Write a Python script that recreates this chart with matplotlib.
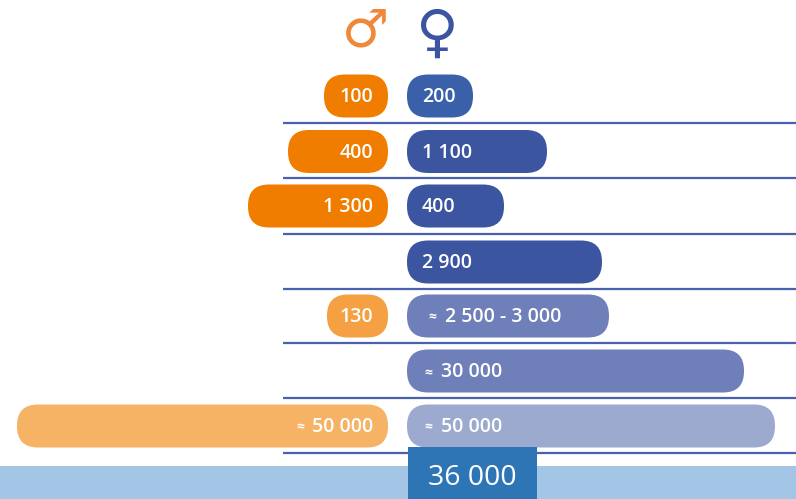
import matplotlib.pyplot as plt
from matplotlib.patches import FancyBboxPatch, Rectangle

plt.rcParams['font.family'] = ['Open Sans', 'DejaVu Sans']

male_labels = ['100', '400', '1 300', '', '130', '', '50 000']
female_labels = ['200', '1 100', '400', '2 900', '2 500 - 3 000', '30 000', '50 000']
male_approx = [False, False, False, False, False, False, True]
female_approx = [False, False, False, False, True, True, True]
# bar lengths, the bars are schematic
male_len = [64, 100, 140, 0, 61, 0, 371]
female_len = [66, 140, 97, 195, 202, 337, 368]
male_col = ['#F07D00', '#F07D00', '#F07D00', '#F07D00', '#F4A043', '#F4A043', '#F6B265']
female_col = ['#3B60AA', '#3C55A0', '#3C55A0', '#3C55A0', '#6F7FB9', '#6F7FB9', '#9DAAD0']
total_label = '36 000'

row_y = [96, 151.5, 206, 262, 316, 371, 426]
line_y = [123, 177.5, 234, 289, 343, 398, 452.5]
row_h = 43
gap = 19  # between the female baseline and the male one

fig = plt.figure(figsize=(7.96, 4.99), dpi=100)
ax = fig.add_axes([0, 0, 1, 1])
# x in pixels from the start of the female bars
ax.set_xlim(-407, 389)
ax.set_ylim(499, 0)
ax.axis('off')


def bar(x0, length, y, color):
    r = min(21, length / 2 - 1)
    ax.add_patch(FancyBboxPatch((x0, y - row_h / 2), length, row_h,
                                boxstyle=f'round,pad=0,rounding_size={r}',
                                fc=color, ec='none', zorder=2))


for y in line_y:
    ax.plot([-124, 389], [y, y], color='#4A62AE', lw=1.6, solid_capstyle='butt', zorder=1)

for i, y in enumerate(row_y):
    if male_len[i]:
        bar(-gap - male_len[i], male_len[i], y, male_col[i])
        ax.text(-34, y + 1, male_labels[i], color='white', fontsize=14, weight='semibold',
                ha='right', va='center', zorder=3)
        if male_approx[i]:
            ax.text(-107, y + 1, '≈', color='white', fontsize=10, weight='bold',
                    ha='center', va='center', zorder=3)
    bar(0, female_len[i], y, female_col[i])
    xt = 15
    if female_approx[i]:
        # the longest label sits a bit further in
        xt = 38 if len(female_labels[i]) > 8 else 34
        ax.text(xt - 13, y + 1, '≈', color='white', fontsize=10, weight='bold',
                ha='center', va='center', zorder=3)
    ax.text(xt, y + 1, female_labels[i], color='white', fontsize=14, weight='semibold',
            ha='left', va='center', zorder=3)

ax.text(-42, 31, '♂', color='#F0883A', fontsize=38, family='DejaVu Sans', weight='bold',
        ha='center', va='center')
ax.text(30, 34, '♀', color='#3C55A0', fontsize=42, family='DejaVu Sans', weight='bold',
        ha='center', va='center')

ax.add_patch(Rectangle((-407, 466), 796, 33, fc='#A3C5E6', ec='none', zorder=2))
ax.add_patch(Rectangle((1, 447), 129, 52, fc='#2E75B6', ec='none', zorder=3))
ax.text(65, 478, total_label, color='white', fontsize=20.5, ha='center', va='center', zorder=4)

fig.savefig('out.png', dpi=100)
